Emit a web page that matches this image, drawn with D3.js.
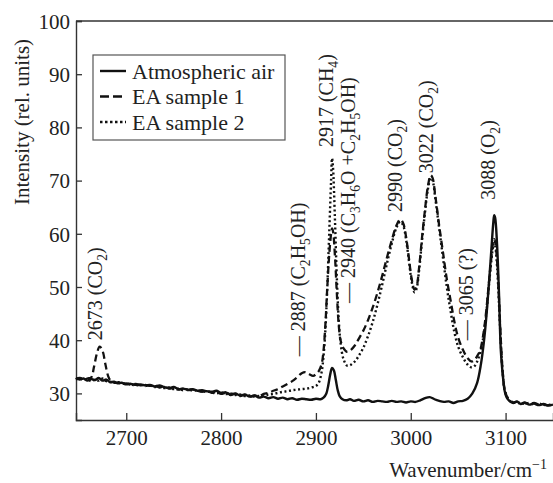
<!DOCTYPE html>
<html>
<head>
<meta charset="utf-8">
<script src="https://cdn.jsdelivr.net/npm/d3@7"></script>
<style>
  body { margin: 0; background: #fff; }
  text { font-family: "Liberation Serif", "Times New Roman", serif; fill: #222; }
</style>
</head>
<body>
<div id="content"></div>
<script>
// Raman spectra: [wavenumber cm-1, intensity]
const air = [
  [2647,32.9],[2651,32.6],[2655,32.8],[2659,32.4],[2663,32.7],[2667,32.5],[2671,32.9],[2675,32.4],
  [2679,32.6],[2683,32.1],[2687,32.2],[2691,31.9],[2695,32.0],[2700,31.7],[2705,31.8],[2710,31.6],
  [2715,31.7],[2720,31.5],[2725,31.6],[2730,31.3],[2735,31.5],[2740,31.2],[2745,31.0],[2750,31.2],
  [2755,30.8],[2760,30.9],[2765,30.7],[2770,30.8],[2775,30.5],[2780,30.6],[2785,30.4],[2790,30.3],
  [2795,30.5],[2800,30.1],[2805,30.2],[2810,29.8],[2815,30.0],[2820,29.6],[2825,29.8],[2830,29.4],
  [2835,29.6],[2840,29.2],[2845,29.4],[2850,29.1],[2855,29.3],[2860,29.0],[2865,29.2],[2870,28.9],
  [2875,29.1],[2880,28.8],[2885,29.0],[2890,28.9],[2895,28.8],[2900,29.0],[2905,28.9],[2908,29.2],
  [2911,30.0],[2913,31.5],[2915,33.5],[2917,34.8],[2919,34.3],[2921,32.5],[2923,30.6],[2925,29.5],
  [2928,28.9],[2932,28.7],[2936,28.9],[2940,28.6],[2945,28.8],[2950,28.5],[2955,28.7],[2960,28.4],
  [2965,28.6],[2970,28.5],[2975,28.4],[2980,28.6],[2985,28.4],[2990,28.5],[2995,28.3],[3000,28.5],
  [3005,28.4],[3010,28.7],[3015,29.1],[3020,29.3],[3025,28.9],[3030,28.6],[3035,28.4],[3040,28.5],
  [3045,28.2],[3050,28.5],[3055,28.6],[3060,29.0],[3065,30.0],[3070,32.0],[3074,35.5],[3077,39.5],
  [3080,45],[3083,52],[3085,57],[3087,62],[3088,63.5],[3089,63],[3091,58],[3093,49],
  [3095,38],[3097,33.5],[3099,30.5],[3101,29.3],[3104,28.6],[3108,28.2],[3112,28.5],[3116,28.0],
  [3120,28.3],[3125,27.9],[3130,28.1],[3135,27.8],[3140,28.0],[3145,27.7],[3150,27.9]
];
const sample1 = [
  [2647,32.7],[2651,32.9],[2655,32.5],[2659,32.8],[2663,33.0],[2666,35],[2669,37.5],[2672,38.8],
  [2675,38.0],[2678,35.5],[2681,33.2],[2684,32.3],[2688,32.0],[2692,32.1],[2696,31.8],[2700,31.9],
  [2705,31.6],[2710,31.8],[2715,31.5],[2720,31.6],[2725,31.4],[2730,31.5],[2735,31.1],[2740,31.3],
  [2745,30.9],[2750,31.0],[2755,30.7],[2760,30.9],[2765,30.6],[2770,30.7],[2775,30.5],[2780,30.3],
  [2785,30.5],[2790,30.1],[2795,30.3],[2800,29.9],[2805,30.1],[2810,29.7],[2815,29.9],[2820,29.5],
  [2825,29.7],[2830,29.4],[2835,29.6],[2840,29.5],[2845,29.9],[2850,30.1],[2855,30.5],[2860,30.8],
  [2865,31.3],[2870,31.8],[2875,32.3],[2880,33.0],[2885,33.8],[2889,34.0],[2893,33.6],[2897,33.3],
  [2900,33.6],[2903,34.2],[2906,35.5],[2908,38],[2910,43],[2912,50],[2914,56],[2916,60],
  [2917,61],[2918,60.5],[2920,56],[2922,49],[2924,43],[2926,40],[2929,38.5],[2933,37.8],
  [2937,38.2],[2941,39.0],[2945,40.2],[2950,41.8],[2955,43.8],[2960,46.2],[2965,49.0],[2970,52.2],
  [2975,55.6],[2980,58.8],[2985,61.6],[2989,62.7],[2992,62.0],[2995,59.5],[2998,55.5],[3001,51.5],
  [3004,49.5],[3006,50.0],[3009,54],[3012,59.5],[3015,64.5],[3018,68.8],[3021,71],[3023,70.5],
  [3026,67],[3030,61.5],[3034,56.5],[3038,51.5],[3042,47.5],[3046,43.5],[3050,40.5],[3055,38.2],
  [3060,36.6],[3064,36.0],[3067,36.2],[3070,37.0],[3073,38.0],[3076,40.5],[3079,44.5],[3082,50],
  [3085,55.5],[3087,58.5],[3088,59],[3089,58.5],[3091,55],[3093,48],[3095,40],[3097,34],
  [3099,30.8],[3102,29.2],[3105,28.7],[3108,28.3],[3112,28.4],[3116,28.1],[3120,28.2],[3125,28.0],
  [3130,28.2],[3135,27.9],[3140,27.9],[3145,27.8],[3150,27.9]
];
const sample2 = [
  [2647,32.6],[2651,32.9],[2655,32.6],[2659,32.7],[2663,32.3],[2667,32.6],[2671,32.4],[2675,32.8],
  [2679,32.3],[2683,32.2],[2687,32.0],[2691,32.1],[2695,31.8],[2700,31.9],[2705,31.7],[2710,31.5],
  [2715,31.6],[2720,31.4],[2725,31.5],[2730,31.2],[2735,31.3],[2740,31.0],[2745,31.1],[2750,30.8],
  [2755,30.9],[2760,30.6],[2765,30.8],[2770,30.5],[2775,30.6],[2780,30.3],[2785,30.4],[2790,30.2],
  [2795,30.0],[2800,30.2],[2805,29.9],[2810,30.0],[2815,29.7],[2820,29.8],[2825,29.5],[2830,29.6],
  [2835,29.4],[2840,29.5],[2845,29.6],[2850,29.8],[2855,29.9],[2860,30.1],[2865,30.3],[2870,30.4],
  [2875,30.6],[2880,30.7],[2885,30.8],[2890,30.9],[2895,31.1],[2900,31.4],[2903,32.0],[2906,34.0],
  [2908,37],[2910,42],[2912,50],[2914,60],[2916,70],[2917,74.2],[2918,72.5],[2920,63],
  [2922,52],[2924,44],[2926,39.5],[2929,36.5],[2933,35.2],[2937,35.4],[2941,36.0],[2945,37.0],
  [2950,38.6],[2955,40.8],[2960,43.5],[2965,46.8],[2970,50.5],[2975,54.5],[2980,58.2],[2985,61.2],
  [2989,62.3],[2992,61.6],[2995,59.0],[2998,55.0],[3001,51.0],[3004,49.0],[3006,49.6],[3009,53.5],
  [3012,59],[3015,64],[3018,68.3],[3021,70.5],[3023,70.0],[3026,66.5],[3030,61],[3034,55.5],
  [3038,50],[3042,45.5],[3046,41.5],[3050,38.8],[3055,36.8],[3060,35.4],[3064,34.9],[3067,35.1],
  [3070,36.0],[3073,37.5],[3076,40],[3079,44],[3082,49.5],[3085,55],[3087,57.8],[3088,58.3],
  [3089,57.8],[3091,54],[3093,47],[3095,39.5],[3097,33.8],[3099,30.7],[3102,29.2],[3105,28.5],
  [3108,28.4],[3112,28.1],[3116,28.3],[3120,28.0],[3125,28.2],[3130,27.9],[3135,28.1],[3140,27.8],
  [3145,27.9],[3150,27.7]
];
const seriesNames = ["Atmospheric air", "EA sample 1", "EA sample 2"];
const xTicks = [2700, 2800, 2900, 3000, 3100];
const yTicks = [30, 40, 50, 60, 70, 80, 90, 100];
// peak labels: wavenumber, text ("_n" = subscript), intensity where the text starts
const peakWn   = [2673, 2887, 2917, 2940, 2990, 3022, 3065, 3088];
const peakText = ["2673 (CO_2)", "— 2887 (C_2H_5OH)", "2917 (CH_4)", "— 2940 (C_3H_6O +C_2H_5OH)",
                  "2990 (CO_2)", "3022 (CO_2)", "— 3065 (?)", "3088 (O_2)"];
const peakAt   = [40.0, 37.0, 76.3, 47.0, 64.1, 71.4, 40.0, 66.4];

//////////////////// drawing area
const W = 553, H = 483;
const margin = { left: 76, right: 0, top: 21, bottom: 63 };
const iW = W - margin.left - margin.right;
const iH = H - margin.top - margin.bottom;

const xScale = d3.scaleLinear().domain([2647, 3150]).range([0, iW]);
const yScale = d3.scaleLinear().domain([25, 100]).range([iH, 0]);

const svg = d3.select("#content").append("svg")
  .attr("width", W).attr("height", H);

const g = svg.append("g")
  .attr("transform", "translate(" + margin.left + "," + margin.top + ")");

// axes, ticks pointing inwards
const xAxis = g.append("g")
  .attr("transform", "translate(0," + iH + ")")
  .call(d3.axisBottom(xScale).tickValues(xTicks).tickSize(-7).tickPadding(10).tickFormat(d3.format("d")));
const yAxis = g.append("g")
  .call(d3.axisLeft(yScale).tickValues(yTicks).tickSize(-6).tickPadding(6));

[xAxis, yAxis].forEach(a => {
  a.select(".domain").attr("stroke", "#333").attr("stroke-width", 1.4);
  a.selectAll(".tick line").attr("stroke", "#333").attr("stroke-width", 1.3);
  a.selectAll(".tick text").style("font-size", "21px").attr("fill", "#222");
});
yAxis.selectAll(".tick text").attr("dy", "0.35em");

// top frame line
g.append("line")
  .attr("x1", 0).attr("x2", iW).attr("y1", 0).attr("y2", 0)
  .attr("stroke", "#333").attr("stroke-width", 1.4);

// spectra
const line = d3.line()
  .x(d => xScale(d[0]))
  .y(d => yScale(d[1]))
  .curve(d3.curveCatmullRom.alpha(0.5));

const styles = [
  { dash: null, width: 2.4 },
  { dash: "7,4", width: 2.3 },
  { dash: "2,2.6", width: 2.4 }
];
const series = [air, sample1, sample2];

g.selectAll(".spectrum").data(series).enter()
  .append("path")
  .attr("class", "spectrum")
  .attr("d", line)
  .attr("fill", "none")
  .attr("stroke", "#111")
  .attr("stroke-width", (d, i) => styles[i].width)
  .attr("stroke-dasharray", (d, i) => styles[i].dash);

// rotated peak labels with subscripts
function addRich(textSel, str, size) {
  const parts = str.split(/(_\d)/).filter(s => s.length);
  let shifted = false;
  parts.forEach(p => {
    if (p[0] === "_") {
      textSel.append("tspan").text(p.slice(1))
        .style("font-size", (size * 0.68) + "px")
        .attr("dy", shifted ? 0 : 5);
      shifted = true;
    } else {
      textSel.append("tspan").text(p).attr("dy", shifted ? -5 : 0);
      shifted = false;
    }
  });
}

peakWn.forEach((wn, i) => {
  const t = g.append("text")
    .attr("transform", "translate(" + (xScale(wn) + 1) + "," + yScale(peakAt[i]) + ") rotate(-90)")
    .attr("dy", "0.35em")
    .style("font-size", "20px");
  addRich(t, peakText[i], 20);
});

// legend
const legend = g.append("g").attr("transform", "translate(17,34)");
legend.append("rect")
  .attr("width", 192).attr("height", 85)
  .attr("fill", "#fff").attr("stroke", "#555").attr("stroke-width", 1.2);
const rows = legend.selectAll(".row").data(seriesNames).enter()
  .append("g").attr("class", "row")
  .attr("transform", (d, i) => "translate(0," + (16 + i * 25.5) + ")");
rows.append("line")
  .attr("x1", 7).attr("x2", 33)
  .attr("stroke", "#111").attr("stroke-width", 2.4)
  .attr("stroke-dasharray", (d, i) => i === 0 ? null : (i === 1 ? "9,4" : "2.5,2.5"));
rows.append("text")
  .attr("x", 39).attr("dy", "0.35em")
  .style("font-size", "22px")
  .text(d => d);

// axis titles
svg.append("text")
  .attr("transform", "translate(22,122) rotate(-90)")
  .attr("text-anchor", "middle").attr("dy", "0.35em")
  .style("font-size", "21px")
  .text("Intensity (rel. units)");

const xt = svg.append("text")
  .attr("x", 547).attr("y", 477)
  .attr("text-anchor", "end")
  .style("font-size", "21px");
xt.append("tspan").text("Wavenumber/cm");
xt.append("tspan").text("−1").attr("dy", -8).style("font-size", "14px");
</script>
</body>
</html>
